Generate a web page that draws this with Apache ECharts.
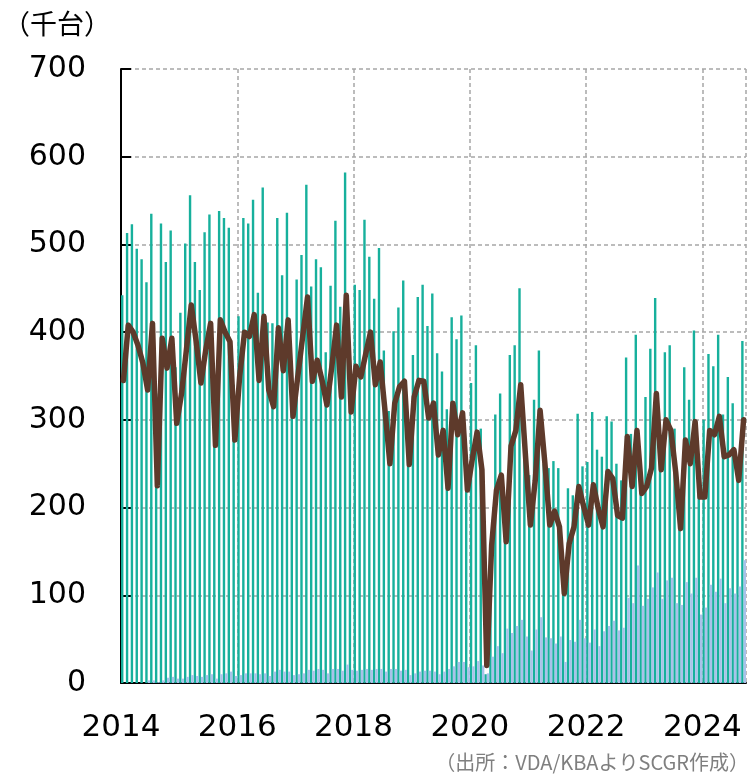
<!DOCTYPE html>
<html>
<head>
<meta charset="utf-8">
<script src="https://cdn.jsdelivr.net/npm/echarts@6/dist/echarts.min.js"></script>
<style>
  html, body { margin: 0; padding: 0; background: #fff; }
  #main { width: 751px; height: 778px; }
</style>
</head>
<body>
<div id="main"></div>
<script type="text/javascript">
// 月次データ 2014年1月～2024年9月（千台）
var startYear = 2014;
var yearTicks = [2014, 2016, 2018, 2020, 2022, 2024];

// 生産（緑の棒）
var production = [
  442, 513, 523, 495, 483, 457, 535, 330, 524, 480, 516, 360,
  422, 501, 556, 480, 448, 514, 534, 330, 538, 530, 519, 340,
  418, 530, 524, 551, 445, 565, 411, 410, 530, 465, 536, 350,
  460, 488, 568, 452, 483, 474, 377, 453, 527, 429, 582, 350,
  454, 448, 528, 486, 438, 496, 379, 310, 401, 428, 459, 290,
  374, 440, 454, 407, 444, 376, 355, 312, 417, 392, 419, 260,
  342, 385, 290, 10, 158, 306, 330, 170, 374, 385, 450, 280,
  237, 323, 379, 250, 245, 253, 245, 140, 222, 214, 307, 247,
  252, 309, 266, 258, 304, 298, 250, 231, 371, 284, 397, 240,
  326, 381, 439, 270, 377, 385, 290, 200, 360, 323, 402, 250,
  300, 375, 361, 397, 306, 349, 319, 250, 390
];

// 水色の棒
var ev = [
  0, 0, 0, 0, 0, 3, 3, 1, 3, 6, 7, 5,
  5, 7, 9, 8, 7, 9, 10, 5, 10, 11, 13, 8,
  9, 11, 11, 11, 10, 11, 8, 13, 15, 13, 13, 9,
  10, 11, 15, 14, 16, 15, 11, 16, 16, 14, 21, 15,
  14, 15, 16, 15, 16, 16, 13, 16, 16, 14, 15, 9,
  11, 13, 14, 14, 13, 10, 13, 16, 19, 24, 24, 18,
  19, 25, 20, 11, 30, 42, 34, 62, 57, 65, 72, 53,
  37, 61, 75, 52, 51, 45, 53, 24, 49, 47, 72, 51,
  46, 61, 42, 59, 65, 71, 60, 63, 97, 91, 134, 88,
  96, 109, 126, 96, 117, 120, 91, 89, 115, 102, 120, 78,
  86, 112, 104, 119, 91, 108, 102, 110, 140
];

// 茶色の線
var exportsLine = [
  345, 408, 400, 385, 365, 334, 410, 225, 393, 359, 393, 296,
  330, 380, 431, 390, 342, 380, 410, 271, 414, 400, 389, 277,
  350, 400, 395, 420, 345, 418, 334, 315, 405, 356, 414, 304,
  350, 395, 440, 344, 368, 345, 317, 360, 408, 326, 442, 309,
  361, 349, 375, 400, 340, 366, 310, 250, 319, 338, 344, 249,
  326, 345, 344, 302, 319, 260, 288, 222, 319, 283, 308, 220,
  255, 286, 243, 20, 157, 220, 237, 161, 270, 288, 340, 258,
  180, 231, 311, 250, 180, 196, 178, 102, 159, 178, 224, 201,
  180, 226, 199, 178, 241, 233, 191, 188, 281, 224, 288, 216,
  224, 245, 330, 243, 300, 288, 240, 176, 277, 250, 298, 212,
  212, 288, 283, 304, 258, 260, 266, 231, 300
];

var months = [];
for (var i = 0; i < production.length; i++) {
  months.push((startYear + Math.floor(i / 12)) + '/' + (i % 12 + 1));
}
function isYearTick(idx) {
  return idx % 12 === 0 && yearTicks.indexOf(startYear + idx / 12) >= 0;
}

var myChart = echarts.init(document.getElementById('main'));
var gridColor = '#a6a6a6';

var option = {
  animation: false,
  backgroundColor: '#fff',
  grid: { left: 121, right: 5, top: 69, bottom: 95 },
  xAxis: {
    type: 'category',
    data: months,
    boundaryGap: true,
    axisLine: { lineStyle: { color: '#000', width: 2 } },
    axisTick: { inside: true, length: 10, interval: isYearTick,
                lineStyle: { color: '#000', width: 2 } },
    axisLabel: {
      interval: isYearTick,
      formatter: function (v) { return v.split('/')[0]; },
      fontFamily: 'DejaVu Sans', fontSize: 31, color: '#000',
      margin: 29, padding: [0, 4.84, 0, 0]
    },
    splitLine: { show: true, interval: isYearTick,
                 lineStyle: { color: gridColor, width: 1.5, type: [4, 3] } }
  },
  yAxis: {
    type: 'value', min: 0, max: 700, interval: 100,
    axisLine: { show: true, lineStyle: { color: '#000', width: 2 } },
    axisTick: { show: true, inside: true, length: 10, lineStyle: { color: '#000', width: 2 } },
    axisLabel: { fontFamily: 'DejaVu Sans', fontSize: 30, color: '#000', margin: 35 },
    splitLine: { lineStyle: { color: gridColor, width: 1.5, type: [4, 3] } }
  },
  series: [
    { name: '生産', type: 'bar', data: production, barWidth: 2.4, barGap: '0%',
      itemStyle: { color: '#17b09c' } },
    { name: 'EV', type: 'bar', data: ev, barWidth: 2.4,
      itemStyle: { color: '#a9c1ea' } },
    { name: '輸出', type: 'line', data: exportsLine, symbol: 'none', z: 5,
      lineStyle: { color: '#5e3a2b', width: 5.5, cap: 'round', join: 'round' } }
  ],
  graphic: [
    { type: 'text', left: 3, top: 10,
      style: { text: '（千台）', fontFamily: 'Noto Sans CJK JP', fontSize: 27, fill: '#000' } },
    { type: 'text', right: 2, top: 752,
      style: { text: '（出所：VDA/KBAよりSCGR作成）', fontFamily: 'Noto Sans CJK JP',
               fontSize: 20, fill: '#7f7f7f' } }
  ]
};

myChart.setOption(option);
</script>
</body>
</html>
